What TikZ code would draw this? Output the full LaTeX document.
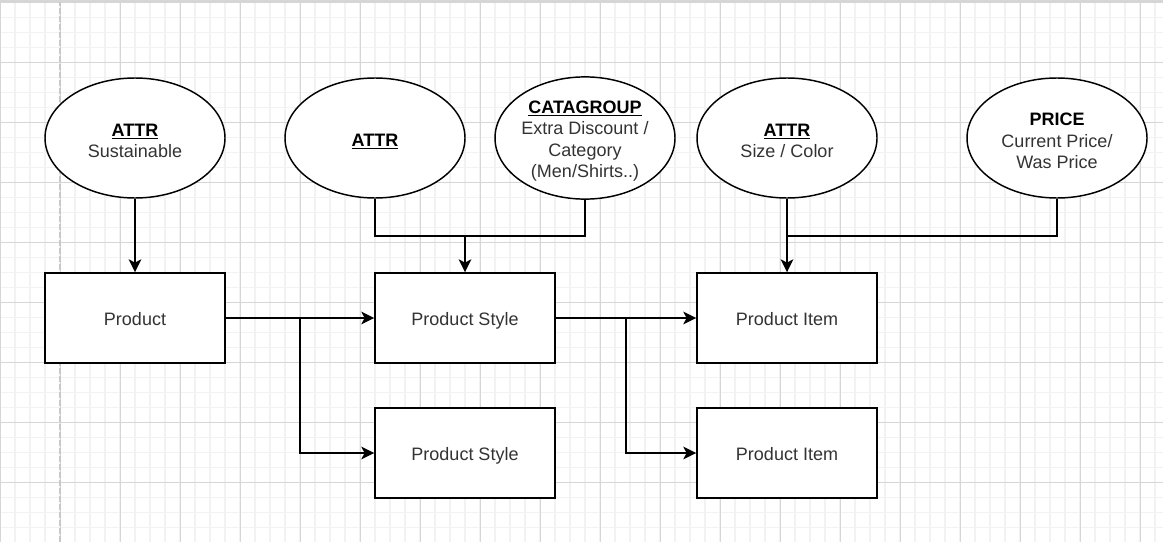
\documentclass[tikz,border=0pt]{standalone}
\usepackage{fontspec}
\setmainfont{Liberation Sans}
\usetikzlibrary{shapes.geometric,arrows.meta}
\definecolor{txt}{HTML}{333333}
\definecolor{gmin}{HTML}{F2F2F2}
\definecolor{gmaj}{HTML}{D6D6D6}
\definecolor{gdash}{HTML}{C8C8C8}
\tikzset{
  ent/.style={ellipse, draw, line width=1.1pt, fill=white, minimum width=135pt, minimum height=90pt,
    inner sep=0pt, align=center, font=\fontsize{13.5}{16}\selectfont, text=txt},
  box/.style={rectangle, draw, line width=1.1pt, fill=white, minimum width=135pt, minimum height=67.5pt,
    inner sep=0pt, text height=12.6pt, text depth=1pt, font=\fontsize{13.5}{16}\selectfont, text=txt},
  plain/.style={line width=1.1pt, draw=black},
  link/.style={plain, -{Stealth[length=9.75pt,width=9.5pt,inset=2.5pt]}}
}
\newcommand{\hd}[1]{\rule{0pt}{14pt}{\bfseries\color{black}#1}}
\begin{document}
\begin{tikzpicture}[x=0.75pt,y=-0.75pt]
\useasboundingbox (0,0) rectangle (1163,542);
\fill[white] (0,0) rectangle (1163,542);
% grid
\foreach \x in {0,15,...,1163} \draw[gmin, line width=0.9pt] (\x,0) -- (\x,542);
\foreach \y in {2.5,17.5,...,542} \draw[gmin, line width=0.9pt] (0,\y) -- (1163,\y);
\foreach \x in {0,60,...,1163} \draw[gmaj, line width=0.75pt] (\x,0) -- (\x,542);
\foreach \y in {2.5,62.5,...,542} \draw[gmaj, line width=0.75pt] (0,\y) -- (1163,\y);
\draw[gdash, line width=0.9pt, dash pattern=on 4.5pt off 1.5pt] (60,0) -- (60,542);
\draw[gmaj, line width=1.5pt] (0,0.8) -- (1163,0.8);
% entities
\node[ent] (e1) at (135,138) {\hd{\underline{ATTR}}\\Sustainable};
\node[ent] (e2) at (375,138) {\hd{\underline{ATTR}}};
\node[ent] (e3) at (585,138) {\hd{\underline{CATAGROUP}}\\Extra Discount /\\Category\\(Men/Shirts..)};
\node[ent] (e4) at (787,138) {\hd{\underline{ATTR}}\\Size / Color};
\node[ent] (e5) at (1057,138) {\hd{PRICE}\\Current Price/\\Was Price};
% boxes
\node[box] (p) at (135,318) {Product};
\node[box] (s1) at (465,318) {Product Style};
\node[box] (s2) at (465,453) {Product Style};
\node[box] (i1) at (787,318) {Product Item};
\node[box] (i2) at (787,453) {Product Item};
% connectors
\coordinate (j1) at (465,236);
\coordinate (j2) at (787,236);
\coordinate (b1) at (300,318);
\coordinate (b2) at (626,318);
\draw[link] (e1) -- (p);
\draw[link] (e2.south) |- (j1) -- (s1.north);
\draw[plain] (e3.south) |- (j1);
\draw[link] (e4) -- (i1);
\draw[plain] (e5.south) |- (j2);
\draw[link] (p) -- (s1);
\draw[link] (b1) |- (s2);
\draw[link] (s1) -- (i1);
\draw[link] (b2) |- (i2);
\end{tikzpicture}
\end{document}
